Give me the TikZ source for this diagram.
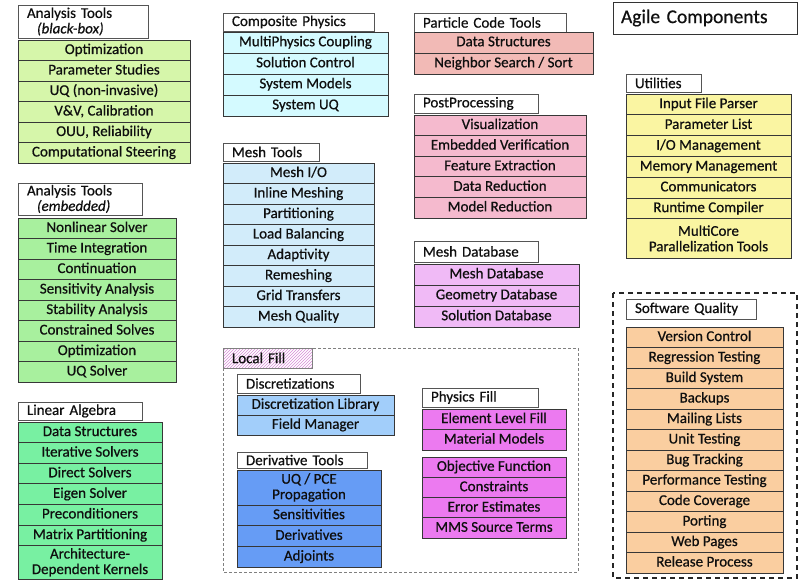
\documentclass[tikz,border=0pt]{standalone}
\usepackage{fontspec}
\setmainfont{Carlito}[FakeBold=0.6]
\usetikzlibrary{patterns}
\definecolor{edge}{RGB}{55,55,55}
\definecolor{tedge}{RGB}{85,85,85}
\definecolor{ink}{RGB}{15,15,15}
\definecolor{cBB}{RGB}{214,246,170}
\definecolor{cEM}{RGB}{168,240,158}
\definecolor{cLA}{RGB}{120,240,162}
\definecolor{cCP}{RGB}{212,250,255}
\definecolor{cMT}{RGB}{210,236,250}
\definecolor{cPC}{RGB}{242,186,182}
\definecolor{cPP}{RGB}{245,186,206}
\definecolor{cMD}{RGB}{240,186,246}
\definecolor{cUT}{RGB}{250,245,162}
\definecolor{cSQ}{RGB}{250,206,160}
\definecolor{cDI}{RGB}{162,206,250}
\definecolor{cDT}{RGB}{102,156,245}
\definecolor{cPF}{RGB}{236,122,240}
\definecolor{hatch}{RGB}{215,140,215}
\tikzset{
  rowbox/.style={draw=edge, line width=0.9pt, inner sep=0pt, outer sep=0pt,
    text=ink, align=center, font=\fontsize{15}{15.5}\selectfont},
  onerow/.style={text height=10.5pt, text depth=3pt},
  titlebox/.style={draw=tedge, line width=0.9pt, fill=white, inner xsep=9pt,
    inner ysep=0pt, outer sep=0pt, text=ink, align=left,
    font=\fontsize{15}{15.5}\selectfont},
  groupline/.style={draw=gray, line width=0.8pt, dash pattern=on 3pt off 2pt},
  sqline/.style={draw=black!85, line width=1.2pt, dash pattern=on 5pt off 4pt}
}
% one box: name, x1, y1, x2, y2, fill, text
\newcommand\rbx[7]{%
  \node[rowbox, fill=#6, minimum width={(#4-#2)*1pt}, minimum height={(#5-#3)*1pt}]
    (#1) at ({(#2+#4)/2},{(#3+#5)/2}) {#7};}
% stack of equal rows: prefix, x1, x2, ytop, row height, fill, list
\newcommand\stk[7]{%
  \foreach \t [count=\i] in {#7} {
    \node[rowbox, onerow, fill=#6, minimum width={(#3-#2)*1pt}, minimum height={#5*1pt}]
      (#1\i) at ({(#2+#3)/2},{#4+(\i-0.5)*#5}) {\t};
  }}
% title box: name, x1, y1, x2, y2, text
\newcommand\tbx[6]{%
  \node[titlebox, text width={(#4-#2-18)*1pt}, minimum height={(#5-#3)*1pt}]
    (#1) at ({(#2+#4)/2},{(#3+#5)/2}) {#6};}
\begin{document}
\begin{tikzpicture}[x=1pt,y=-1pt]
\useasboundingbox (0,0) rectangle (798,580);
\fill[white] (0,0) rectangle (798,580);

% Analysis Tools (black-box)
\tbx{tBB}{18}{5}{148}{38}{Analysis Tools\\\hspace*{10pt}\textit{(black-box)}}
\stk{bb}{18}{190}{40}{20.5}{cBB}{Optimization,Parameter Studies,UQ (non-invasive),{V\&V, Calibration},{OUU, Reliability},Computational Steering}

% Analysis Tools (embedded)
\tbx{tEM}{18}{183}{142}{215}{Analysis Tools\\\hspace*{10pt}\textit{(embedded)}}
\stk{em}{18}{176}{218}{20.5}{cEM}{Nonlinear Solver,Time Integration,Continuation,Sensitivity Analysis,Stability Analysis,Constrained Solves,Optimization,UQ Solver}

% Linear Algebra
\tbx{tLA}{18}{402}{142}{420}{Linear Algebra}
\stk{la}{18}{162}{422}{20.6}{cLA}{Data Structures,Iterative Solvers,Direct Solvers,Eigen Solver,Preconditioners,Matrix Partitioning}
\rbx{la7}{18}{545.6}{162}{579}{cLA}{Architecture-\\Dependent Kernels}

% Composite Physics
\tbx{tCP}{223}{13}{374}{31}{Composite Physics}
\stk{cp}{223}{388}{32}{21}{cCP}{MultiPhysics Coupling,Solution Control,System Models,System UQ}

% Mesh Tools
\tbx{tMT}{223}{143}{319}{161}{Mesh Tools}
\stk{mt}{223}{374}{163}{20.5}{cMT}{Mesh I/O,Inline Meshing,Partitioning,Load Balancing,Adaptivity,Remeshing,Grid Transfers,Mesh Quality}

% Particle Code Tools
\tbx{tPC}{414}{13}{566}{32}{Particle Code Tools}
\stk{pc}{414}{593}{32}{21}{cPC}{Data Structures,Neighbor Search / Sort}

% PostProcessing
\tbx{tPP}{414}{94}{538}{113}{PostProcessing}
\stk{pp}{414}{586}{115}{20.6}{cPP}{Visualization,Embedded Verification,Feature Extraction,Data Reduction,Model Reduction}

% Mesh Database
\tbx{tMD}{414}{241}{538}{262}{Mesh Database}
\stk{md}{414}{579}{264}{21}{cMD}{Mesh Database,Geometry Database,Solution Database}

% Agile Components
\node[titlebox, draw=black!80, font=\fontsize{19.5}{21}\selectfont, text width={(797-613-16)*1pt},
  inner xsep=8pt, minimum height=32pt] (agile) at ({(613+797)/2},18) {Agile Components};

% Utilities
\tbx{tUT}{626}{74}{701}{92}{Utilities}
\stk{ut}{626}{791}{94}{20.8}{cUT}{Input File Parser,Parameter List,I/O Management,Memory Management,Communicators,Runtime Compiler}
\rbx{ut7}{626}{218.8}{791}{258}{cUT}{MultiCore\\Parallelization Tools}

% Software Quality
\draw[sqline] (613,293) rectangle (797,578);
\tbx{tSQ}{626}{299}{756}{319}{Software Quality}
\stk{sq}{626}{783}{327}{20.5}{cSQ}{Version Control,Regression Testing,Build System,Backups,Mailing Lists,Unit Testing,Bug Tracking,Performance Testing,Code Coverage,Porting,Web Pages,Release Process}

% Local Fill
\draw[groupline] (223,348) rectangle (578,572);
\fill[white] (223,348) rectangle (312,368);
\fill[pattern=north east lines, pattern color=hatch] (223,348) rectangle (312,368);
\node[titlebox, fill=none, draw=gray, text width={(312-223-18)*1pt}, minimum height=20pt]
  (tLF) at ({(223+312)/2},358) {Local Fill};

% Discretizations
\tbx{tDI}{237}{374}{360}{393}{Discretizations}
\stk{di}{237}{394}{395}{20}{cDI}{Discretization Library,Field Manager}

% Derivative Tools
\tbx{tDT}{237}{452}{367}{468}{Derivative Tools}
\rbx{dt1}{237}{470}{381}{505}{cDT}{UQ / PCE\\Propagation}
\stk{dtb}{237}{381}{505}{20.7}{cDT}{Sensitivities,Derivatives,Adjoints}

% Physics Fill
\tbx{tPF}{422}{388}{538}{407}{Physics Fill}
\stk{pf}{422}{566}{409}{20.5}{cPF}{Element Level Fill,Material Models}
\stk{pfb}{422}{566}{457}{20.3}{cPF}{Objective Function,Constraints,Error Estimates,MMS Source Terms}
\end{tikzpicture}
\end{document}
